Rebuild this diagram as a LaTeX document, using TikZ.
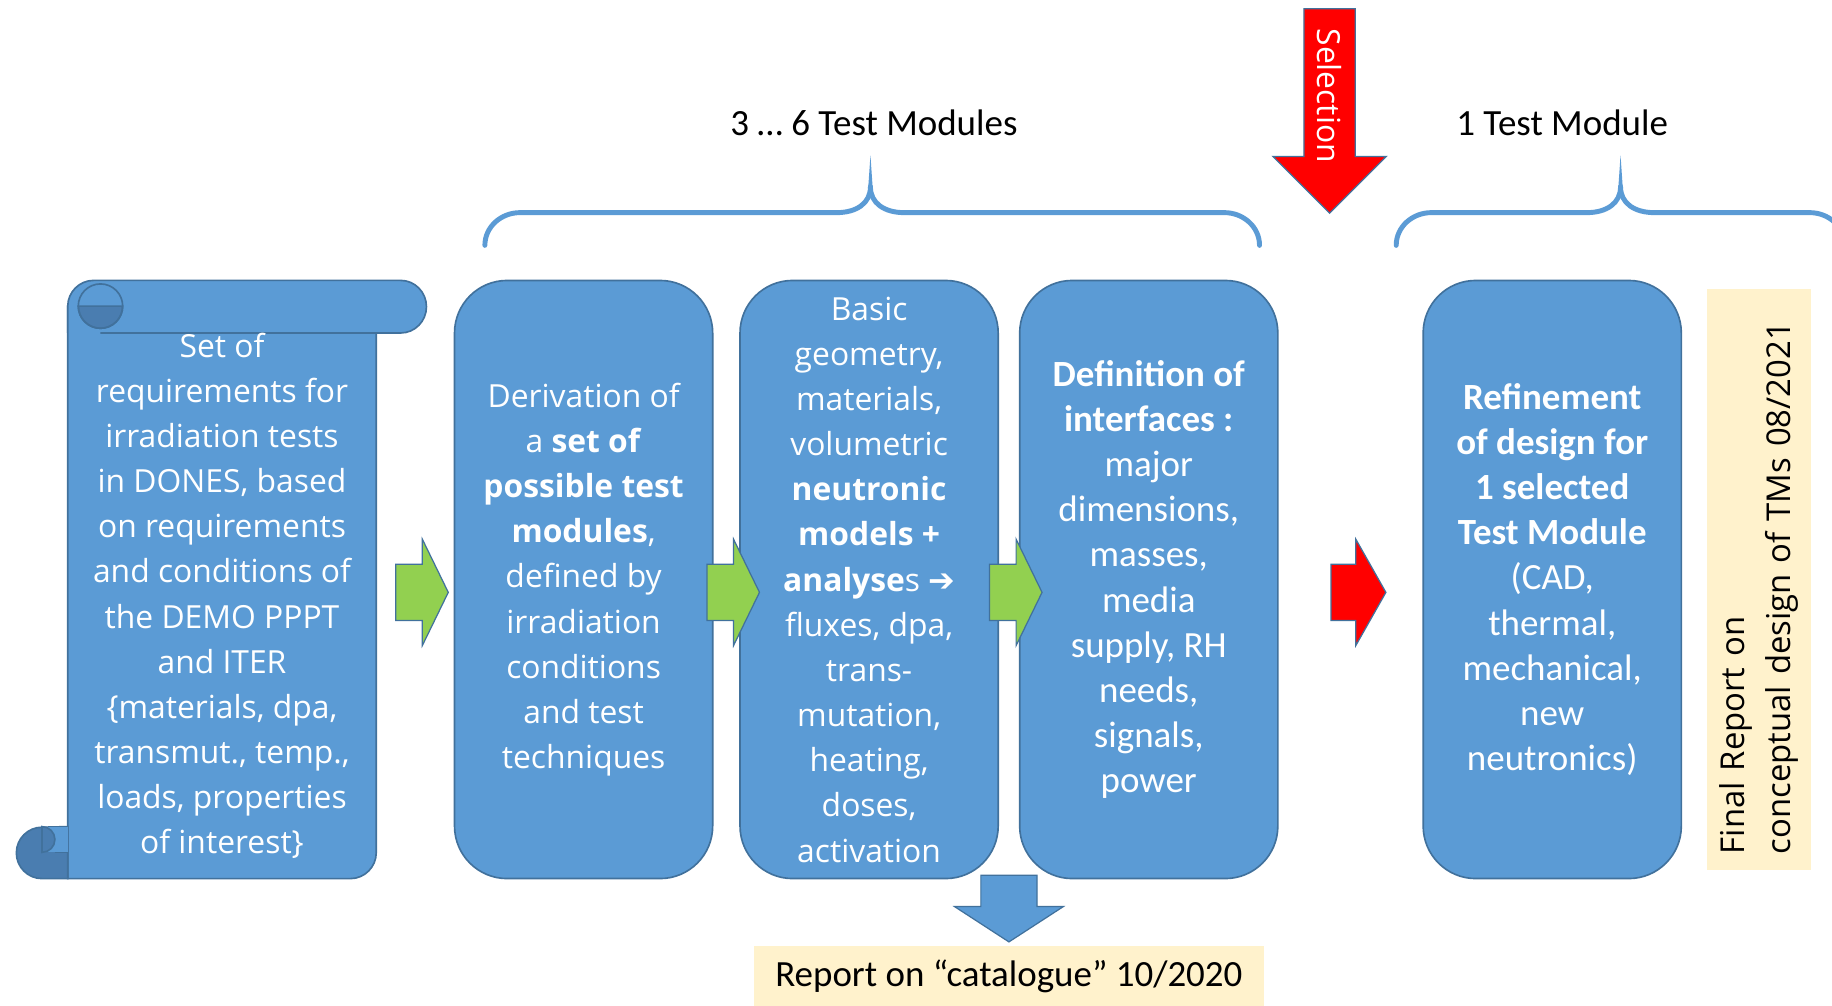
\documentclass[tikz,border=0pt]{standalone}
\usepackage{fontspec}
\setmainfont{Carlito}
\newfontfamily\segoefont{Open Sans}
\newfontfamily\symfont{DejaVu Sans}
\usetikzlibrary{positioning, calc, shapes.arrows}

\definecolor{boxblue}{HTML}{5B9BD5}
\definecolor{boxline}{HTML}{41719C}
\definecolor{curlblue}{HTML}{4A7DB0}
\definecolor{stepgreen}{HTML}{92D050}
\definecolor{notefill}{HTML}{FFF2CC}

\tikzset{
  tmbox/.style={draw=boxline, line width=0.8pt, fill=boxblue, rounded corners=0.9cm,
    minimum width=4.42cm, minimum height=10.24cm, inner sep=0pt, text=white, align=center},
  seg/.style={font=\segoefont\fontsize{15.5}{22}\selectfont},
  cal/.style={font=\fontsize{18}{22}\selectfont},
  blockarrow/.style={single arrow, draw=boxline, line width=0.6pt, inner xsep=0pt, inner ysep=0.47cm,
    minimum width=1.8cm, minimum height=0.9cm, single arrow head extend=0.43cm,
    single arrow tip angle=128},
  note/.style={fill=notefill, inner sep=0pt},
  brace/.style={draw=boxblue, line width=2.4pt, line cap=round},
}

\begin{document}
\begin{tikzpicture}[x=0.02cm, y=-0.02cm]
\useasboundingbox (0,0) rectangle (1568,861);
\fill[white] (0,0) rectangle (1568,861);

% scroll
\filldraw[fill=boxblue, draw=boxline, line width=0.8pt] (58,262) -- (58,752) -- (300,752)
  .. controls (312,752) and (322,742) .. (322,730) -- (322,285) -- cycle;
\fill[boxblue] (58,262) .. controls (58,250) and (68,240) .. (80,240) -- (343,240)
  .. controls (355,240) and (365,250) .. (365,262.5) .. controls (365,275) and (355,285) .. (343,285)
  -- (58,285) -- cycle;
\draw[boxline, line width=0.8pt] (58,285) -- (58,262) .. controls (58,250) and (68,240) .. (80,240) -- (343,240)
  .. controls (355,240) and (365,250) .. (365,262.5) .. controls (365,275) and (355,285) .. (343,285)
  -- (86,285);
\filldraw[fill=curlblue, draw=boxline, line width=0.8pt] (105,262) arc[start angle=0, end angle=180, radius=19] -- cycle;
\draw[boxline, line width=0.8pt] (86,262) circle[radius=19];
\filldraw[fill=curlblue, draw=boxline, line width=0.8pt] (58,752) -- (36,752)
  arc[start angle=90, end angle=270, radius=22] -- (58,707.5) -- cycle;
\fill[boxblue] (36,707.5) rectangle (58,729.5);
\filldraw[fill=curlblue, draw=boxline, line width=0.8pt] (36,707.5) arc[start angle=-90, end angle=90, radius=11] -- cycle;
\draw[boxline, line width=0.8pt] (47,729.5) -- (58,729.5);
\node[seg, text=white, align=center, minimum width=5.28cm, minimum height=9.8cm, inner sep=0pt] (req) at (190,510)
  {Set of\\requirements for\\irradiation tests\\in DONES, based\\on requirements\\and conditions of\\the DEMO PPPT\\and ITER\\\{materials, dpa,\\transmut., temp.,\\loads, properties\\of interest\}};

% boxes
\node[tmbox, seg] (deriv) at (499.5,496)
  {Derivation of\\a \textbf{set of}\\\textbf{possible test}\\\textbf{modules},\\defined by\\irradiation\\conditions\\and test\\techniques};
\node[tmbox, seg, right=0.44cm of deriv] (neutr)
  {Basic\\geometry,\\materials,\\volumetric\\\textbf{neutronic}\\\textbf{models +}\\\textbf{analyse}s {\symfont ➔}\\fluxes, dpa,\\trans-\\mutation,\\heating,\\doses,\\activation};
\node[tmbox, cal, right=0.34cm of neutr] (iface)
  {\textbf{Definition of}\\\textbf{interfaces :}\\major\\dimensions,\\masses,\\media\\supply, RH\\needs,\\signals,\\power};
\node[tmbox, cal, right=2.46cm of iface] (refine)
  {\textbf{Refinement}\\\textbf{of design for}\\\textbf{1 selected}\\\textbf{Test Module}\\(CAD,\\thermal,\\mechanical,\\new\\neutronics)};

% block arrows
\coordinate (mid) at (0,507);
\foreach \from/\to/\name in {req/deriv/a1, deriv/neutr/a2, neutr/iface/a3}
  \node[blockarrow, fill=stepgreen] (\name) at ($(\from.east |- mid)!0.5!(\to.west |- mid)$) {};
\node[blockarrow, fill=red, minimum height=0.94cm, single arrow tip angle=121] (a4)
  at ($(iface.east |- mid)!0.5!(refine.west |- mid)$) {};
\node[blockarrow, fill=boxblue, rotate=-90, minimum width=1.84cm, minimum height=1.14cm,
  single arrow head extend=0.45cm, single arrow tip angle=114, anchor=tail] (dn)
  at ($(neutr.south east)!0.5!(iface.south west) + (0,-4)$) {};
\node[blockarrow, fill=red, rotate=-90, inner ysep=0.43cm, minimum width=1.92cm, minimum height=3.5cm,
  single arrow head extend=0.53cm, single arrow tip angle=90, anchor=tail] (sel) at (1138,7) {};
\node[seg, text=white, rotate=-90] (sellabel) at (1138,82) {Selection};

% reports
\node[note, cal, minimum width=8.74cm, minimum height=1.02cm] (cat) at (863.5,835.5)
  {Report on “catalogue” 10/2020};
\node[note, seg, font=\segoefont\fontsize{16}{22}\selectfont, rotate=90, minimum width=9.96cm,
  minimum height=1.78cm, text width=9.4cm, align=left] (final)
  at (1505.5,496) {Final Report on\\conceptual design of TMs 08/2021};

% braces
\begin{scope}
\clip (0,0) rectangle (1568,861);
\foreach \l/\p/\r in {415/745/1078, 1195/1387/1579} {
  \draw[brace] (\l,210) .. controls (\l,194) and (\l+14,182) .. (\l+30,182) -- (\p-29,182)
    .. controls (\p-12,182) and (\p,174) .. (\p,160);
  \draw[brace] (\r,210) .. controls (\r,194) and (\r-14,182) .. (\r-30,182) -- (\p+29,182)
    .. controls (\p+12,182) and (\p,174) .. (\p,160);
  \fill[boxblue] (\p-2.2,165) -- (\p,133) -- (\p+2.2,165) -- cycle;
}
\end{scope}
\node[cal] (many) at (748,105) {3 … 6 Test Modules};
\node[cal] (one) at (1337,105) {1 Test Module};
\end{tikzpicture}
\end{document}
